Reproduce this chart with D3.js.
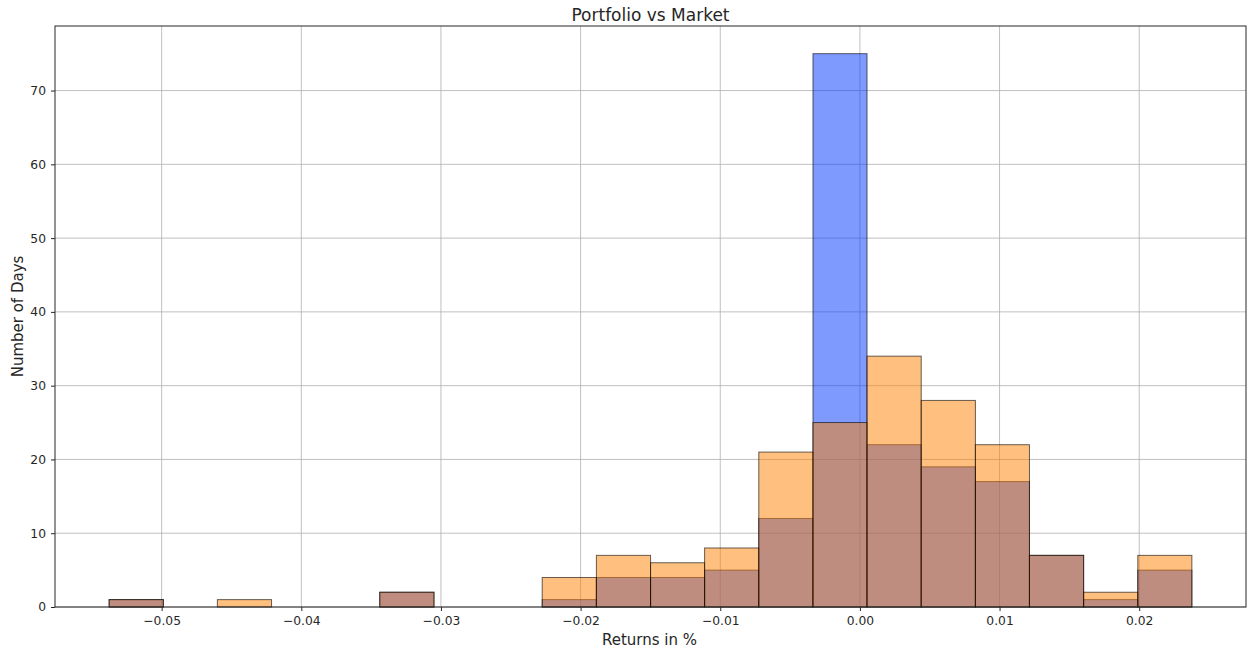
<!DOCTYPE html>
<html>
<head>
<meta charset="utf-8">
<script src="https://cdn.jsdelivr.net/npm/d3@7"></script>
<style>
  body { margin: 0; background: #fff; }
  text { font-family: "DejaVu Sans", sans-serif; fill: #262626; }
</style>
</head>
<body>
<div id="content"></div>
<script>
// histogram data, shared bin edges for both series
var binEdges = [-0.05376, -0.04988, -0.04601, -0.04213, -0.03825, -0.03438, -0.03050, -0.02662,
                -0.02275, -0.01887, -0.01499, -0.01112, -0.00724, -0.00336, 0.00051, 0.00439,
                0.00827, 0.01214, 0.01602, 0.01990, 0.02377];
var portfolioCounts = [1, 0, 0, 0, 0, 2, 0, 0, 1, 4, 4, 5, 12, 75, 22, 19, 17, 7, 1, 5];
var marketCounts    = [1, 0, 1, 0, 0, 2, 0, 0, 4, 7, 6, 8, 21, 25, 34, 28, 22, 7, 2, 7];
var xTicks = [-0.05, -0.04, -0.03, -0.02, -0.01, 0.00, 0.01, 0.02];
var yTicks = [0, 10, 20, 30, 40, 50, 60, 70];

var width = 1249, height = 651;
var margin = {'left': 55, 'top': 26, 'right': 3, 'bottom': 44};
var plot_w = width - margin.left - margin.right;
var plot_h = height - margin.top - margin.bottom;

var svg = d3.select("#content").append("svg")
  .attr("width", width)
  .attr("height", height);

var xPad = (binEdges[binEdges.length-1] - binEdges[0]) * 0.05;
var x = d3.scaleLinear()
  .domain([binEdges[0] - xPad, binEdges[binEdges.length-1] + xPad])
  .range([margin.left, margin.left + plot_w]);
var y = d3.scaleLinear()
  .domain([0, 75 * 1.05])
  .range([margin.top + plot_h, margin.top]);

var minus = function(v) { return d3.format(".2f")(v).replace("-", "\u2212"); };

// grid
var g = svg.append("g");
g.selectAll(".gx").data(xTicks).enter().append("line")
  .attr("x1", function(d){ return x(d); }).attr("x2", function(d){ return x(d); })
  .attr("y1", margin.top).attr("y2", margin.top + plot_h)
  .attr("stroke", "#b0b0b0").attr("stroke-width", 0.8);
g.selectAll(".gy").data(yTicks).enter().append("line")
  .attr("x1", margin.left).attr("x2", margin.left + plot_w)
  .attr("y1", function(d){ return y(d); }).attr("y2", function(d){ return y(d); })
  .attr("stroke", "#b0b0b0").attr("stroke-width", 0.8);

function drawBars(counts, color) {
  var bins = counts.map(function(c, i){ return {x0: binEdges[i], x1: binEdges[i+1], n: c}; })
    .filter(function(d){ return d.n > 0; });
  svg.append("g").selectAll("rect").data(bins).enter().append("rect")
    .attr("x", function(d){ return x(d.x0); })
    .attr("width", function(d){ return x(d.x1) - x(d.x0); })
    .attr("y", function(d){ return y(d.n); })
    .attr("height", function(d){ return y(0) - y(d.n); })
    .attr("fill", color).attr("fill-opacity", 0.5)
    .attr("stroke", "#000").attr("stroke-opacity", 0.6).attr("stroke-width", 1);
}
drawBars(portfolioCounts, "#0036ff");
drawBars(marketCounts, "#ff7f00");

// axes
var xAxis = d3.axisBottom(x).tickValues(xTicks).tickFormat(minus).tickSize(4).tickPadding(5);
var yAxis = d3.axisLeft(y).tickValues(yTicks).tickFormat(d3.format("d")).tickSize(4).tickPadding(5);
var gx = svg.append("g").attr("transform", "translate(0," + (margin.top + plot_h) + ")").call(xAxis);
var gy = svg.append("g").attr("transform", "translate(" + margin.left + ",0)").call(yAxis);
[gx, gy].forEach(function(a){
  a.select(".domain").remove();
  a.selectAll("line").attr("stroke", "#262626");
  a.selectAll("text").attr("font-size", 12.3).attr("font-family", "DejaVu Sans").attr("fill", "#262626");
});

svg.append("rect")
  .attr("x", margin.left).attr("y", margin.top)
  .attr("width", plot_w).attr("height", plot_h)
  .attr("fill", "none").attr("stroke", "#262626").attr("stroke-width", 1);

// labels
svg.append("text").attr("x", margin.left + plot_w/2).attr("y", 20.5)
  .attr("text-anchor", "middle").attr("font-size", 17).text("Portfolio vs Market");
svg.append("text").attr("x", margin.left + plot_w/2 - 1).attr("y", 645)
  .attr("text-anchor", "middle").attr("font-size", 15).text("Returns in %");
svg.append("text").attr("transform", "translate(23," + (margin.top + plot_h/2) + ") rotate(-90)")
  .attr("text-anchor", "middle").attr("font-size", 15).text("Number of Days");
</script>
</body>
</html>
